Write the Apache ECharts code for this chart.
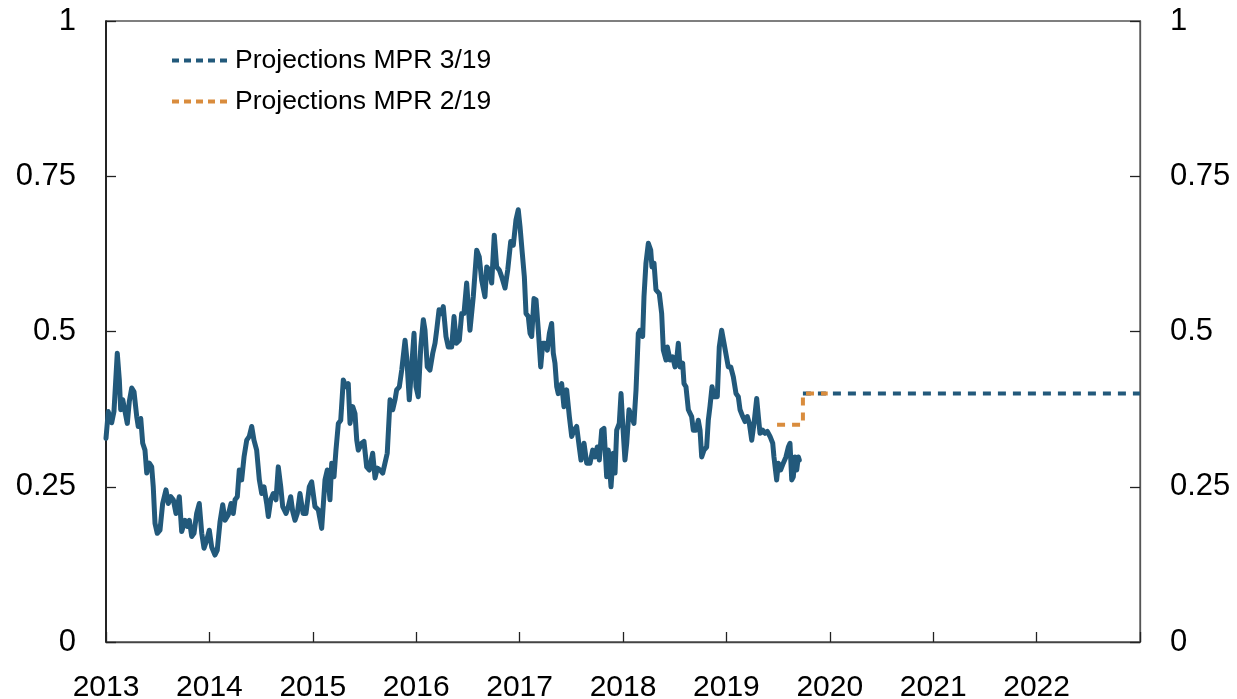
<!DOCTYPE html>
<html>
<head>
<meta charset="utf-8">
<script src="https://cdn.jsdelivr.net/npm/echarts@6/dist/echarts.min.js"></script>
<style>
html,body{margin:0;padding:0;background:#fff;}
#chart{width:1237px;height:699px;}
</style>
</head>
<body>
<div id="chart"></div>
<script>
// x values: years since start of 2013
const xTickLabels = ['2013','2014','2015','2016','2017','2018','2019','2020','2021','2022'];
const yTickLabels = ['0','0.25','0.5','0.75','1'];

const histT = [
0.000,0.022,0.055,0.077,0.109,0.129,0.142,0.162,0.184,0.206,0.225,0.249,0.271,0.297,0.312,0.336,0.355,0.377,0.394,0.419,
0.442,0.457,0.474,0.496,0.522,0.548,0.580,0.603,0.626,0.651,0.677,0.709,0.732,0.764,0.786,0.806,0.829,0.851,0.877,0.902,
0.926,0.948,0.974,0.999,1.022,1.054,1.076,1.103,1.129,1.151,1.183,1.209,1.231,1.248,1.270,1.289,1.312,1.335,1.361,1.386,
1.409,1.431,1.457,1.483,1.506,1.528,1.554,1.570,1.593,1.618,1.644,1.666,1.690,1.709,1.741,1.763,1.786,1.806,1.828,1.850,
1.876,1.906,1.934,1.966,1.989,2.021,2.053,2.086,2.118,2.140,2.166,2.183,2.205,2.224,2.247,2.270,2.295,2.321,2.343,2.360,
2.386,2.408,2.425,2.440,2.473,2.495,2.521,2.546,2.579,2.602,2.624,2.650,2.676,2.698,2.720,2.747,2.773,2.795,2.811,2.837,
2.860,2.892,2.908,2.933,2.956,2.979,2.998,3.020,3.044,3.069,3.085,3.107,3.133,3.160,3.182,3.198,3.221,3.247,3.262,3.288,
3.310,3.343,3.366,3.388,3.417,3.440,3.462,3.488,3.520,3.552,3.585,3.610,3.633,3.665,3.682,3.707,3.730,3.755,3.778,3.804,
3.827,3.859,3.885,3.914,3.939,3.965,3.987,4.004,4.026,4.046,4.062,4.084,4.101,4.117,4.139,4.159,4.181,4.204,4.224,4.246,
4.268,4.288,4.310,4.326,4.342,4.359,4.374,4.407,4.429,4.455,4.481,4.504,4.526,4.552,4.577,4.594,4.623,4.649,4.681,4.707,
4.729,4.751,4.771,4.794,4.816,4.842,4.858,4.884,4.906,4.923,4.939,4.964,4.981,4.997,5.019,5.036,5.058,5.084,5.106,5.126,
5.148,5.164,5.190,5.203,5.222,5.245,5.268,5.280,5.300,5.319,5.351,5.374,5.390,5.416,5.429,5.455,5.481,5.503,5.519,5.535,
5.551,5.577,5.590,5.609,5.632,5.664,5.680,5.706,5.728,5.745,5.761,5.783,5.809,5.825,5.841,5.861,5.880,5.912,5.931,5.954,
5.977,5.996,6.018,6.042,6.067,6.093,6.115,6.132,6.158,6.180,6.202,6.222,6.245,6.267,6.293,6.309,6.325,6.351,6.373,6.396,
6.422,6.448,6.460,6.486,6.502,6.525,6.550,6.576,6.599,6.615,6.632,6.647,6.663,6.680,6.696,6.705
];
const histV = [
0.328,0.371,0.353,0.371,0.465,0.422,0.374,0.390,0.371,0.352,0.387,0.409,0.403,0.363,0.347,0.360,0.320,0.309,0.272,0.288,
0.282,0.250,0.191,0.175,0.180,0.223,0.245,0.223,0.234,0.229,0.207,0.234,0.178,0.196,0.186,0.196,0.170,0.175,0.207,0.223,
0.175,0.151,0.164,0.180,0.153,0.140,0.148,0.194,0.221,0.196,0.205,0.223,0.207,0.229,0.234,0.277,0.261,0.298,0.325,0.331,
0.347,0.325,0.309,0.261,0.239,0.250,0.223,0.202,0.229,0.239,0.229,0.282,0.250,0.218,0.207,0.218,0.234,0.210,0.196,0.207,
0.239,0.207,0.207,0.250,0.258,0.218,0.213,0.183,0.261,0.277,0.229,0.288,0.266,0.309,0.352,0.357,0.422,0.411,0.416,0.352,
0.379,0.368,0.325,0.309,0.320,0.323,0.282,0.277,0.304,0.264,0.280,0.277,0.272,0.288,0.304,0.390,0.374,0.390,0.406,0.411,
0.438,0.486,0.459,0.390,0.443,0.497,0.411,0.395,0.475,0.519,0.502,0.443,0.438,0.465,0.481,0.502,0.535,0.529,0.540,0.492,
0.475,0.475,0.524,0.481,0.486,0.529,0.529,0.578,0.502,0.556,0.631,0.620,0.583,0.556,0.604,0.599,0.578,0.655,0.604,0.599,
0.588,0.570,0.599,0.645,0.639,0.680,0.696,0.669,0.626,0.588,0.529,0.524,0.497,0.492,0.553,0.551,0.502,0.443,0.481,0.481,
0.470,0.497,0.513,0.465,0.449,0.411,0.400,0.416,0.379,0.406,0.363,0.331,0.341,0.347,0.314,0.293,0.320,0.288,0.288,0.309,
0.298,0.314,0.293,0.341,0.344,0.266,0.309,0.250,0.304,0.272,0.341,0.352,0.400,0.352,0.293,0.320,0.374,0.363,0.352,0.406,
0.497,0.502,0.492,0.556,0.610,0.642,0.631,0.604,0.610,0.567,0.561,0.529,0.470,0.454,0.475,0.454,0.459,0.443,0.454,0.481,
0.443,0.449,0.416,0.411,0.374,0.363,0.341,0.341,0.357,0.341,0.298,0.309,0.314,0.357,0.379,0.411,0.395,0.395,0.475,0.502,
0.481,0.481,0.443,0.443,0.427,0.400,0.395,0.374,0.363,0.355,0.363,0.352,0.325,0.352,0.392,0.363,0.336,0.341,0.336,0.339,
0.331,0.320,0.298,0.261,0.288,0.277,0.288,0.298,0.314,0.320,0.261,0.266,0.298,0.277,0.298,0.293
];

const mpr319Name = 'Projections MPR 3/19';
const mpr319T = [6.74, 10];
const mpr319V = [0.40, 0.40];
const mpr219Name = 'Projections MPR 2/19';
const mpr219T = [6.49, 6.74, 6.74, 6.98];
const mpr219V = [0.35, 0.35, 0.40, 0.40];

const BLUE = '#22597b';
const ORANGE = '#d98c3d';
const FONT = 'Liberation Sans, Arial, Helvetica, sans-serif';

const zip = (a, b) => a.map((x, i) => [x, b[i]]);

const chart = echarts.init(document.getElementById('chart'), null, {renderer: 'canvas'});

const yAxisCommon = {
  type: 'value', min: 0, max: 1, interval: 0.25,
  splitLine: {show: false},
  axisTick: {show: true, inside: true, length: 10, lineStyle: {color: '#222', width: 1.3}},
  axisLabel: {
    fontSize: 31, color: '#000', fontFamily: FONT, margin: 30,
    formatter: v => yTickLabels[Math.round(v / 0.25)]
  }
};

chart.setOption({
  animation: false,
  backgroundColor: '#fff',
  grid: {left: 106, right: 97, top: 21, bottom: 57, outerBoundsMode: 'none', containLabel: false,
         show: true, borderColor: '#555', borderWidth: 1.3, backgroundColor: 'transparent'},
  legend: {
    data: [mpr319Name, mpr219Name],
    orient: 'vertical',
    left: 165, top: 42,
    itemWidth: 58, itemHeight: 14, itemGap: 14,
    itemStyle: {opacity: 0},
    lineStyle: {width: 4, type: [7, 5]},
    textStyle: {fontSize: 26.5, color: '#000', fontFamily: FONT}
  },
  xAxis: {
    type: 'value', min: 0, max: 10, interval: 1,
    splitLine: {show: false},
    axisLine: {lineStyle: {color: '#444', width: 1.3}},
    axisTick: {show: true, inside: true, length: 10, lineStyle: {color: '#222', width: 1.3}},
    axisLabel: {
      fontSize: 30, color: '#000', fontFamily: FONT, margin: 31,
      formatter: v => (xTickLabels[Math.round(v)] || '')
    }
  },
  yAxis: [
    Object.assign({}, yAxisCommon, {position: 'left', axisLine: {show: true, lineStyle: {color: '#000', width: 1.5}}}),
    Object.assign({}, yAxisCommon, {position: 'right', axisLine: {show: true, lineStyle: {color: '#555', width: 1.3}}})
  ],
  series: [
    {
      name: 'Actual', type: 'line', data: zip(histT, histV), showSymbol: false, symbol: 'none',
      lineStyle: {color: BLUE, width: 5, join: 'round', cap: 'round'}, itemStyle: {color: BLUE}, z: 3
    },
    {
      name: mpr319Name, type: 'line', data: zip(mpr319T, mpr319V), showSymbol: false, symbol: 'none',
      lineStyle: {color: BLUE, width: 4, type: [8, 7]}, itemStyle: {color: BLUE}, z: 4
    },
    {
      name: mpr219Name, type: 'line', data: zip(mpr219T, mpr219V), showSymbol: false, symbol: 'none',
      lineStyle: {color: ORANGE, width: 4, type: [8, 7]}, itemStyle: {color: ORANGE}, z: 5
    }
  ]
});
</script>
</body>
</html>
